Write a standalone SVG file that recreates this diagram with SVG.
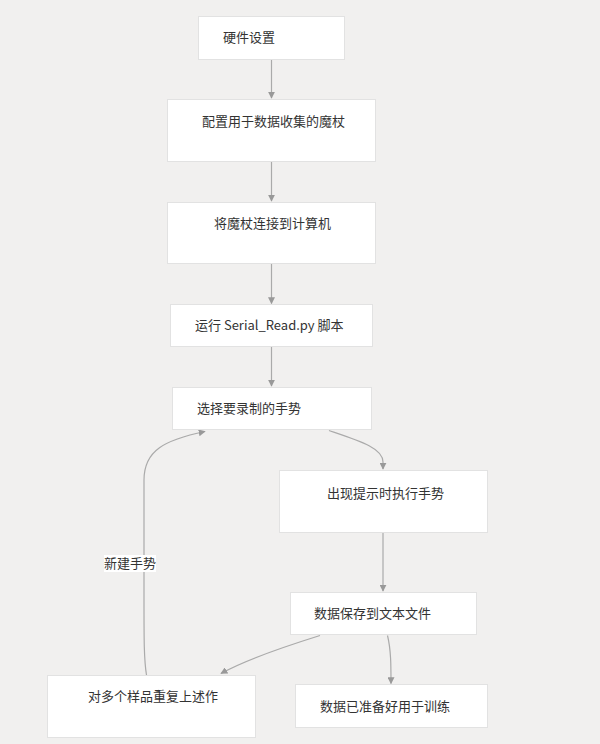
<svg xmlns="http://www.w3.org/2000/svg" width="600" height="744" viewBox="0 0 600 744">
<defs>
<style>
.node rect{fill:#ffffff;stroke:#e2e2e2;stroke-width:1}
.node text{font-family:"Noto Sans CJK SC","Noto Sans",sans-serif;font-size:13px;fill:#333333}
.edges path{fill:none;stroke:#aaaaaa;stroke-width:1.2}
.lbl rect{fill:#ffffff}
.lbl text{font-family:"Noto Sans CJK SC","Noto Sans",sans-serif;font-size:13px;fill:#333333}
</style>
<marker id="arr" viewBox="0 0 10 10" refX="9" refY="5" markerWidth="7" markerHeight="7" markerUnits="userSpaceOnUse" orient="auto">
<path d="M0,0 L10,5 L0,10 z" fill="#999999"/>
</marker>
</defs>
<rect width="600" height="744" fill="#f1f0ef"/>
<g class="edges">
<path d="M271.5,59.5 L271.5,98" marker-end="url(#arr)"/>
<path d="M271.5,162 L271.5,201" marker-end="url(#arr)"/>
<path d="M271.5,264 L271.5,303.5" marker-end="url(#arr)"/>
<path d="M271.5,347 L271.5,386" marker-end="url(#arr)"/>
<path d="M329,430.5 C360,441 383,448 383,462 L383,469" marker-end="url(#arr)"/>
<path d="M383,533 L383,591" marker-end="url(#arr)"/>
<path d="M387.5,635.5 C391,650 391,665 391,683.5" marker-end="url(#arr)"/>
<path d="M320,635.5 C280,648 245,660 221,673.5" marker-end="url(#arr)"/>
<path d="M146.5,675 C144,660 144,640 144,600 L144,480 C144,450 165,440 205,431.5" marker-end="url(#arr)"/>
</g>
<g id="n1" class="node"><rect x="198.5" y="16.5" width="146" height="43"/><text x="223" y="42">硬件设置</text></g>
<g id="n2" class="node"><rect x="167.5" y="99.5" width="208" height="62"/><text x="202" y="126">配置用于数据收集的魔杖</text></g>
<g id="n3" class="node"><rect x="167.5" y="202.5" width="208" height="61"/><text x="214" y="228">将魔杖连接到计算机</text></g>
<g id="n4" class="node"><rect x="170.5" y="304.5" width="202" height="42"/><text x="195" y="330">运行 Serial_Read.py 脚本</text></g>
<g id="n5" class="node"><rect x="172.5" y="387.5" width="199" height="42"/><text x="197" y="413">选择要录制的手势</text></g>
<g id="n6" class="node"><rect x="279.5" y="470.5" width="208" height="62"/><text x="327" y="498">出现提示时执行手势</text></g>
<g id="n7" class="node"><rect x="290.5" y="592.5" width="186" height="42"/><text x="314" y="618">数据保存到文本文件</text></g>
<g id="n8" class="node"><rect x="295.5" y="684.5" width="192" height="43"/><text x="320" y="711">数据已准备好用于训练</text></g>
<g id="n9" class="node"><rect x="47.5" y="675.5" width="208" height="62"/><text x="88" y="701">对多个样品重复上述作</text></g>
<g class="lbl"><rect x="104" y="555" width="52" height="17"/><text x="104" y="568">新建手势</text></g>
</svg>
